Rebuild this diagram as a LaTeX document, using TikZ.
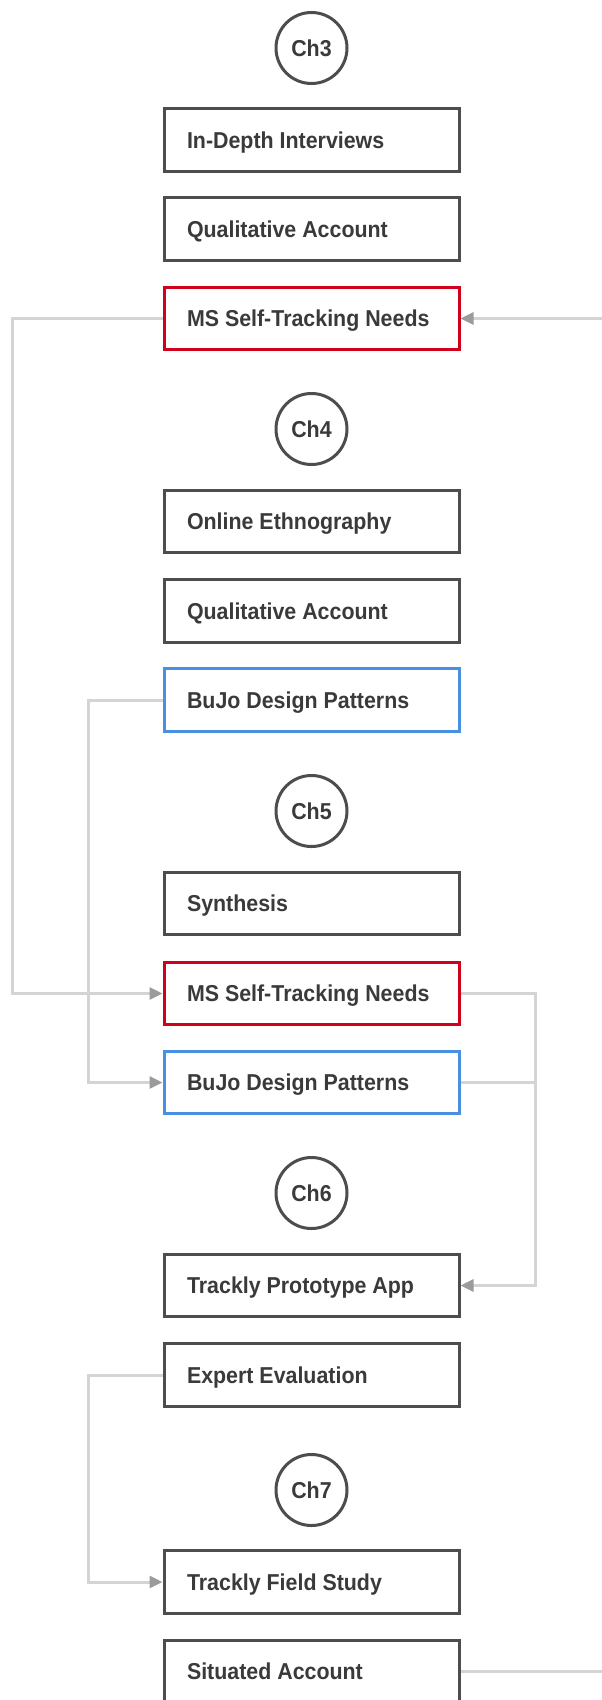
\documentclass[tikz,border=0pt]{standalone}
\usepackage{fontspec}
\setmainfont{Liberation Sans}[FakeStretch=0.93]
\usetikzlibrary{arrows.meta}

\definecolor{boxgray}{HTML}{4D4D4D}
\definecolor{txtgray}{HTML}{3A3A3A}
\definecolor{needred}{HTML}{D0021B}
\definecolor{patblue}{HTML}{4A90E2}
\definecolor{linkgray}{HTML}{D4D4D4}
\definecolor{tipgray}{HTML}{9B9B9B}

\newcommand{\lbl}[1]{\makebox[249pt][l]{#1}}

\tikzset{
  x=1pt, y=-1pt,
  labelfont/.style={font=\fontsize{23}{26}\selectfont\bfseries, text=txtgray},
  stepbox/.style={labelfont, rectangle, draw=boxgray, line width=3pt, fill=white,
    minimum width=295pt, minimum height=62.5pt, inner xsep=23pt, inner ysep=0pt,
    text height=16.5pt, text depth=0pt},
  needbox/.style={stepbox, draw=needred},
  patbox/.style={stepbox, draw=patblue},
  chapter/.style={labelfont, circle, draw=boxgray, line width=3pt, fill=white,
    minimum size=71pt, inner sep=0pt, text height=16.5pt, text depth=0pt},
  link/.style={draw=linkgray, line width=3pt},
  linkto/.style={link, -{Triangle[length=13pt, width=12pt, color=tipgray]}},
}

\begin{document}
\begin{tikzpicture}
\useasboundingbox (0,0) rectangle (602,1700);

% side rails for the connectors
\coordinate (railL) at (12,0);
\coordinate (railM) at (88,0);
\coordinate (railR) at (535,0);

% Chapter 3
\node[chapter] (ch3) at (311.5,48) {Ch3};
\node[stepbox] (interviews) at (311.5,140) {\lbl{In-Depth Interviews}};
\node[stepbox] (qual3) at (311.5,229) {\lbl{Qualitative Account}};
\node[needbox] (needs3) at (311.5,318.5) {\lbl{MS Self-Tracking Needs}};

% Chapter 4
\node[chapter] (ch4) at (311.5,429) {Ch4};
\node[stepbox] (ethno) at (311.5,521.5) {\lbl{Online Ethnography}};
\node[stepbox] (qual4) at (311.5,611) {\lbl{Qualitative Account}};
\node[patbox] (bujo4) at (311.5,700) {\lbl{BuJo Design Patterns}};

% Chapter 5
\node[chapter] (ch5) at (311.5,811) {Ch5};
\node[stepbox] (synth) at (311.5,903.5) {\lbl{Synthesis}};
\node[needbox] (needs5) at (311.5,993.5) {\lbl{MS Self-Tracking Needs}};
\node[patbox] (bujo5) at (311.5,1082.5) {\lbl{BuJo Design Patterns}};

% Chapter 6
\node[chapter] (ch6) at (311.5,1193) {Ch6};
\node[stepbox] (app) at (311.5,1285.5) {\lbl{Trackly Prototype App}};
\node[stepbox] (expert) at (311.5,1375) {\lbl{Expert Evaluation}};

% Chapter 7
\node[chapter] (ch7) at (311.5,1490) {Ch7};
\node[stepbox] (field) at (311.5,1582) {\lbl{Trackly Field Study}};
\node[stepbox] (situated) at (311.5,1671.5) {\lbl{Situated Account}};

% free ends at the right border
\coordinate (inRight) at (602,318.5);
\coordinate (outRight) at (602,1671.5);

% connectors
\draw[linkto] (inRight) -- (needs3.east);
\draw[linkto] (needs3.west) -- (needs3.west -| railL) |- (needs5.west);
\draw[linkto] (bujo4.west) -- (bujo4.west -| railM) |- (bujo5.west);
\draw[link] (bujo5.east) -- (bujo5.east -| railR);
\draw[linkto] (needs5.east) -- (needs5.east -| railR) |- (app.east);
\draw[linkto] (expert.west) -- (expert.west -| railM) |- (field.west);
\draw[link] (situated.east) -- (outRight);
\end{tikzpicture}
\end{document}
